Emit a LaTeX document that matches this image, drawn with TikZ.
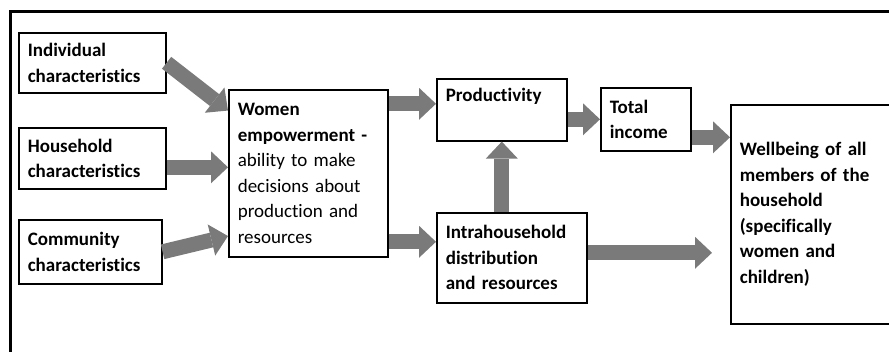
\documentclass[tikz,border=0pt]{standalone}
\usepackage{fontspec}
\setmainfont{Carlito}[Ligatures=NoCommon]
\usetikzlibrary{arrows.meta, calc}
\definecolor{grisfleche}{RGB}{122,122,122}
\tikzstyle{boite} = [draw, line width=1.6pt, anchor=north west, align=left, inner xsep=9pt, inner ysep=0pt, font=\fontsize{19pt}{25.5pt}\selectfont\bfseries]
\tikzstyle{grosse} = [-{Triangle[length=17pt,width=32pt,line width=0pt]}, line width=15pt, draw=grisfleche]

\begin{document}
\begin{tikzpicture}[x=1pt,y=-1pt]
	\useasboundingbox (0,0) rectangle (889,352);
	\draw[line width=3pt] (10,360) -- (10,12) -- (895,12);

	\node[boite, minimum width=147pt, minimum height=60pt, text width=129pt] (ind) at (18,32) {Individual\\characteristics};
	\node[boite, minimum width=147pt, minimum height=61pt, text width=129pt] (hou) at (18,127) {Household\\characteristics};
	\node[boite, minimum width=143pt, minimum height=64pt, text width=125pt] (com) at (18,219) {Community\\characteristics};

	\node[boite, minimum width=159pt, minimum height=167pt, text width=141pt] (wom) at (228,89) {Women\\empowerment~-\\\mdseries ability to make\\decisions about\\production and\\resources};

	\node[boite, minimum width=130pt, minimum height=62pt, text width=112pt, text depth=30pt] (prod) at (436,78) {Productivity};
	\node[boite, minimum width=90pt, minimum height=63pt, text width=72pt] (tot) at (600,87) {Total\\income};
	\node[boite, minimum width=150pt, minimum height=90pt, text width=132pt] (intra) at (436,212) {Intrahousehold\\distribution\\and resources};
	\node[boite, minimum width=230pt, minimum height=219pt, text width=212pt] (well) at (730,104) {Wellbeing of all\\members of the\\household\\(specifically\\women and\\children)};

	\draw[grosse] (ind.east) -- (wom.142);
	\draw[grosse] ($(hou.east)+(0,9)$) -- ($(hou.east -| wom.west)+(0,9)$);
	\draw[grosse] (com.east) -- (wom.218);

	\draw[grosse] ($(prod.west -| wom.east)+(0,-6)$) -- ($(prod.west)+(0,-6)$);
	\draw[grosse] ($(intra.west -| wom.east)+(0,-16)$) -- ($(intra.west)+(0,-16)$);
	\draw[grosse] (intra.north -| prod.south) -- (prod.south);

	\draw[grosse] (prod.east |- tot.west) -- (tot.west);
	\draw[grosse] ($(tot.east)+(0,18)$) -- ($(tot.east -| well.west)+(0,18)$);
	\draw[grosse] ($(intra.east)+(0,-5)$) -- ($(intra.east -| well.west)+(-18,-5)$);
\end{tikzpicture}
\end{document}
